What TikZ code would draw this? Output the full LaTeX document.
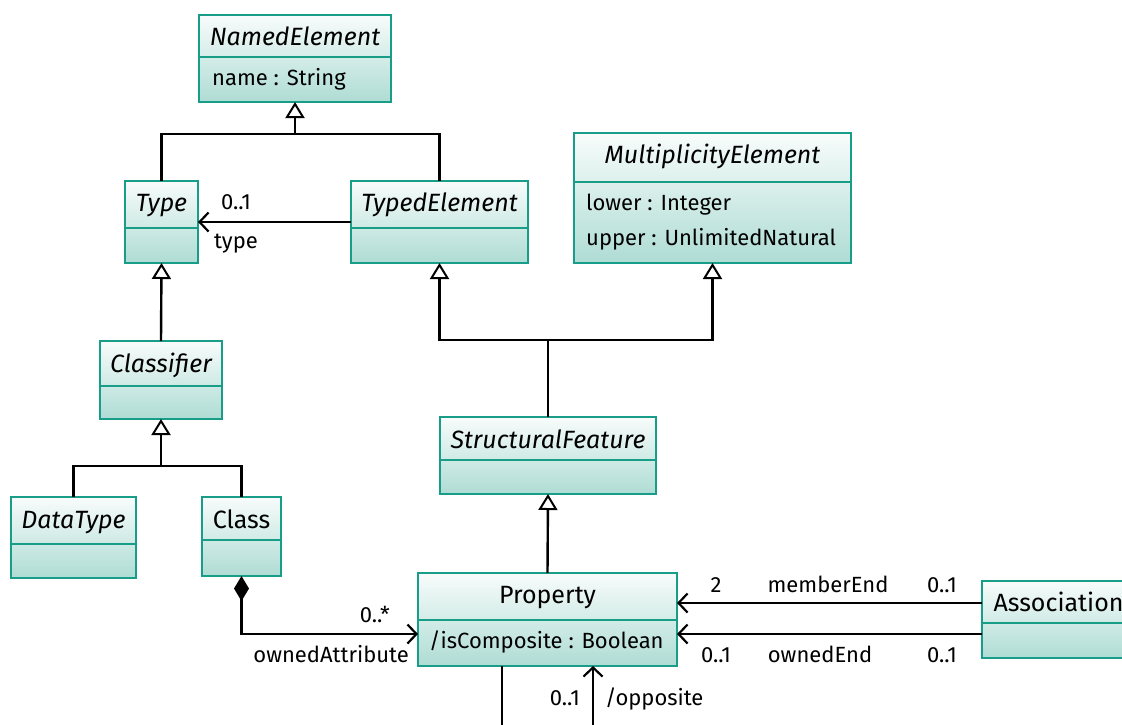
\documentclass[tikz,border=0pt]{standalone}
\usepackage{fontspec}
\setmainfont{Fira Sans}
\usetikzlibrary{arrows.meta}

\definecolor{umlborder}{RGB}{24,158,136}
\definecolor{umltop}{RGB}{248,252,251}
\definecolor{umlbottom}{RGB}{174,220,212}

\tikzset{
  classbox/.style={draw=umlborder, line width=2pt, top color=umltop,
    bottom color=umlbottom, inner sep=0pt, outer sep=0pt, anchor=north west},
  divider/.style={draw=umlborder, line width=2pt},
  txt/.style={font=\fontsize{22}{26}\selectfont, inner sep=0pt, anchor=base},
  titletxt/.style={font=\fontsize{25}{30}\selectfont, inner sep=0pt, anchor=base},
  txtw/.style={txt, anchor=base west},
  txte/.style={txt, anchor=base east},
  conn/.style={draw=black, line width=2.4pt},
  gen/.style={conn, -{Triangle[open, length=16pt, width=19pt, fill=white, line width=2pt]}},
  assocline/.style={conn, -{Straight Barb[length=9pt, width=19pt, line width=2.2pt]}},
  comp/.style={conn, {Diamond[length=25pt, width=15pt]}-{Straight Barb[length=9pt, width=19pt, line width=2.2pt]}},
}

% class box: name, left, top, right, divider y, bottom, title baseline, title
\newcommand{\umlclass}[8]{%
  \node[classbox, minimum width={(#4-#2)*1pt}, minimum height={(#6-#3)*1pt}] (#1) at (#2,#3) {};
  \draw[divider] (#2,#5) -- (#4,#5);
  \node[titletxt] (#1-title) at ({(#2+#4)/2},#7) {#8};
}

\begin{document}
\begin{tikzpicture}[x=1pt, y=-1pt]
\clip (0,0) rectangle (1122,724);

% classes
\umlclass{ne}{199}{15}{391}{57}{102}{45}{\itshape NamedElement}
\node[txtw] (ne-a1) at (212,85) {name : String};

\umlclass{type}{125}{181}{198}{228}{263}{211}{\itshape Type}
\umlclass{typed}{351}{181}{528}{228}{263}{211}{\itshape TypedElement}

\umlclass{mult}{574}{133}{851}{182}{263}{163}{\itshape MultiplicityElement}
\node[txtw] (mult-a1) at (586,210) {lower : Integer};
\node[txtw] (mult-a2) at (586,245) {upper : UnlimitedNatural};

\umlclass{clf}{100}{341}{222}{386}{419}{372}{\itshape Classifier}

\umlclass{dt}{11}{497}{136}{544}{578}{528}{\itshape DataType}
\umlclass{cls}{202}{497}{281}{540}{576}{528}{Class}

\umlclass{sf}{440}{417}{656}{460}{494}{448}{\itshape StructuralFeature}

\umlclass{prop}{418}{573}{677}{620}{666}{603}{Property}
\node[txtw] (prop-a1) at (429,648) {/isComposite : Boolean};

\umlclass{asc}{982}{581}{1135}{623}{658}{611}{Association}

% generalizations
\coordinate (j1) at (295,134);
\draw[conn] (type.north) |- (j1) -| (typed.north);
\draw[gen] (j1) -- (ne.south);

\draw[gen] (clf.north) -- (type.south);

\coordinate (j2) at (161,466);
\draw[conn] (dt.north) |- (j2) -| (cls.north);
\draw[gen] (j2) -- (clf.south);

\coordinate (j3) at (548,340);
\draw[conn] (sf.north) -- (j3);
\draw[gen] (j3) -| (typed.south);
\draw[gen] (j3) -| (mult.south);

\draw[gen] (prop.north) -- (sf.south);

% associations
\draw[assocline] (typed.west |- 0,222) -- (type.east |- 0,222);
\node[txt] (l-type-m) at (236,209) {0..1};
\node[txt] (l-type-r) at (236,248) {type};

\draw[comp] (cls.south) |- (prop.west |- 0,634);
\node[txte] (l-oa-m) at (390,622) {0..*};
\node[txte] (l-oa-r) at (409,662) {ownedAttribute};

\draw[assocline] (asc.west |- 0,603) -- (prop.east |- 0,603);
\node[txt] (l-me-m1) at (716,592) {2};
\node[txt] (l-me-r) at (828,592) {memberEnd};
\node[txt] (l-me-m2) at (942,592) {0..1};

\draw[assocline] (asc.west |- 0,634) -- (prop.east |- 0,634);
\node[txt] (l-oe-m1) at (716,662) {0..1};
\node[txt] (l-oe-r) at (820,662) {ownedEnd};
\node[txt] (l-oe-m2) at (942,662) {0..1};

% self association leaving the lower edge
\coordinate (sa) at (502,730);
\coordinate (sb) at (593,730);
\draw[conn] (prop.south -| sa) -- (sa);
\draw[assocline] (sb) -- (prop.south -| sb);
\node[txte] (l-op-m) at (580,705) {0..1};
\node[txtw] (l-op-r) at (605,705) {/opposite};

\end{tikzpicture}
\end{document}
